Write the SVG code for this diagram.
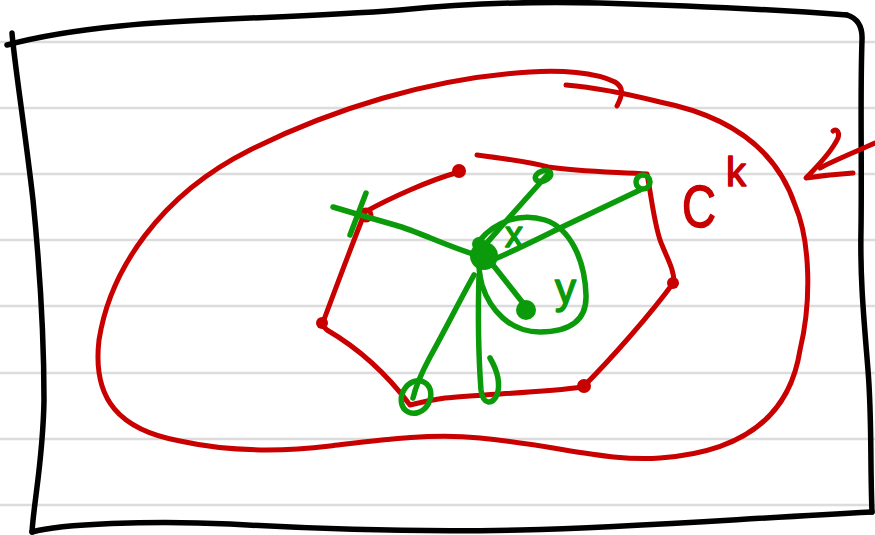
<svg xmlns="http://www.w3.org/2000/svg" width="875" height="535" viewBox="0 0 875 535">
<style>
.rule{stroke:#dcdcdc;stroke-width:2.5;fill:none}
.blk{stroke:#000;stroke-width:5.5;fill:none;stroke-linecap:round;stroke-linejoin:round}
.red{stroke:#c80000;stroke-width:5;fill:none;stroke-linecap:round;stroke-linejoin:round}
.grn{stroke:#0a9a0a;stroke-width:5.5;fill:none;stroke-linecap:round;stroke-linejoin:round}
.rdot{fill:#c80000}
.gdot{fill:#0a9a0a}
.lbl{font-family:"Liberation Sans",Arial,sans-serif;stroke-width:1.5;stroke-linejoin:round}
</style>
<rect width="875" height="535" fill="#fff"/>
<g id="rules">
<line class="rule" x1="0" y1="42" x2="875" y2="42"/>
<line class="rule" x1="0" y1="108" x2="875" y2="108"/>
<line class="rule" x1="0" y1="174" x2="875" y2="174"/>
<line class="rule" x1="0" y1="240" x2="875" y2="240"/>
<line class="rule" x1="0" y1="306" x2="875" y2="306"/>
<line class="rule" x1="0" y1="373" x2="875" y2="373"/>
<line class="rule" x1="0" y1="439" x2="875" y2="439"/>
<line class="rule" x1="0" y1="505" x2="875" y2="505"/>
</g>
<g id="frame">
<path class="blk" d="M 12,33 C 14,60 25,130 33,200 C 40,270 44,340 44,400 C 43,460 34,500 32,532"/>
<path class="blk" d="M 32,532 C 60,524 150,520 230,524 C 330,530 420,532 520,530 C 640,527 720,520 872,512"/>
<path class="blk" d="M 872,512 C 870,460 872,420 868,370 C 864,320 860,280 861,230 C 862,160 860,100 862,40 Q 863,20 847,15"/>
<path class="blk" d="M 847,15 C 780,10 700,6 600,3 C 520,1 460,4 400,10 C 300,18 200,18 120,26 C 80,30 40,36 7,45"/>
</g>
<g id="region-Ck">
<path class="red" d="M 617,106 C 622,96 625,88 615,82 C 595,72 560,70 530,72 C 430,78 330,110 250,150 C 160,195 110,270 99,340 C 92,400 120,430 180,441 C 230,452 280,452 330,446 C 380,440 430,433 480,438 C 560,446 610,462 660,458 C 745,452 790,415 800,350 C 812,300 810,240 795,205 C 775,145 725,115 660,102 C 620,92 590,87 566,85"/>
<text class="lbl" x="682" y="227" font-size="60" fill="#c80000" stroke="#c80000" textLength="34" lengthAdjust="spacingAndGlyphs">C</text>
<text class="lbl" x="726" y="186" font-size="40" fill="#c80000" stroke="#c80000">k</text>
</g>
<g id="arrow">
<path class="red" d="M 875,143 C 855,152 835,160 820,168"/>
<path class="red" d="M 833,131 C 836,128 840,132 838,138 C 830,155 815,168 806,178 C 820,176 838,174 853,173"/>
</g>
<g id="cycle">
<path class="red" d="M 477,155 C 500,158 530,162 548,167 C 580,172 620,172 647,174 C 652,200 655,230 662,245 C 668,260 674,270 674,282 C 650,315 610,360 583,387 C 540,393 480,394 445,398 C 430,400 418,403 410,405 C 395,385 370,355 327,330 L 322,325 C 335,290 350,250 365,212 C 390,198 430,180 459,172"/>
</g>
<g id="v-top-left"><circle class="rdot" cx="459" cy="171" r="7"/></g>
<g id="v-left"><circle class="rdot" cx="322" cy="323" r="6"/></g>
<g id="v-bottom-right"><circle class="rdot" cx="584" cy="386" r="7"/></g>
<g id="v-right"><circle class="rdot" cx="673" cy="283" r="6"/></g>
<g id="v-x-mark"><circle class="red" cx="366" cy="215" r="5"/><path class="grn" d="M 366,193 L 350,235"/></g>
<g id="connectors">
<path class="grn" d="M 483,257 C 450,248 420,232 395,225 C 370,218 350,212 333,207"/>
<path class="grn" d="M 485,245 C 500,228 520,205 550,172"/>
<path class="grn" d="M 497,258 C 520,248 540,238 560,228 C 590,214 615,202 640,190"/>
<path class="grn" d="M 493,265 L 523,303"/>
<path class="grn" d="M 474,275 C 460,300 445,330 430,357 C 422,372 416,385 413,398"/>
<path class="grn" d="M 479,275 C 478,310 478,350 481,390 C 483,405 492,405 497,395 C 501,383 497,370 490,358"/>
<path class="grn" d="M 480,240 C 495,222 520,212 545,220 C 570,228 585,260 586,295 C 587,320 570,332 540,332 C 510,332 490,310 482,285 C 478,270 478,255 480,240"/>
</g>
<g id="v-top-middle"><ellipse class="grn" cx="543" cy="176" rx="8" ry="5" transform="rotate(-20 543 176)"/></g>
<g id="v-top-right"><circle class="grn" cx="643" cy="182" r="7"/></g>
<g id="v-bottom-left"><ellipse class="grn" cx="416" cy="397" rx="14" ry="17" transform="rotate(30 416 397)"/></g>
<g id="center-x"><circle class="gdot" cx="484" cy="256" r="14"/><circle class="gdot" cx="479" cy="244" r="7"/>
<text class="lbl" x="505" y="247" font-size="36" fill="#0a9a0a" stroke="#0a9a0a">x</text></g>
<g id="node-y"><circle class="gdot" cx="526" cy="310" r="10"/>
<text class="lbl" x="555" y="303" font-size="42" fill="#0a9a0a" stroke="#0a9a0a">y</text></g>
</svg>
